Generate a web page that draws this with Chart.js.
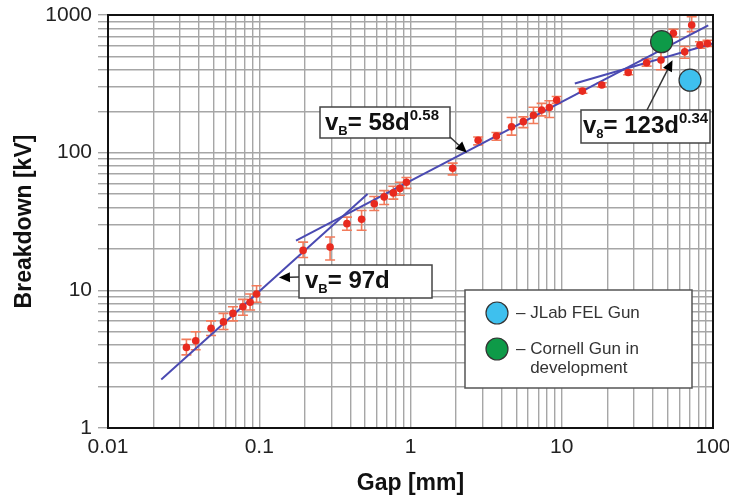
<!DOCTYPE html>
<html>
<head>
<meta charset="utf-8">
<script src="https://cdn.jsdelivr.net/npm/chart.js@4.4.0/dist/chart.umd.min.js"></script>
<style>
  html, body { margin: 0; padding: 0; background: #fff; }
</style>
</head>
<body>
<canvas id="breakdownChart" width="729" height="497"></canvas>
<script>
// measured breakdown voltage vs gap
const gapMm = [0.033, 0.038, 0.048, 0.058, 0.067, 0.078, 0.087, 0.096,
    0.195, 0.294, 0.38, 0.475, 0.576, 0.67, 0.77, 0.85, 0.94,
    1.9, 2.8, 3.7, 4.66, 5.57, 6.5, 7.36, 8.28, 9.26,
    13.7, 18.4, 27.5, 36.4, 45.3, 54.7, 65, 72.3, 82, 92];
const breakdownKv = [3.85, 4.3, 5.3, 5.9, 6.8, 7.6, 8.2, 9.4,
    19.5, 20.6, 30.5, 32.8, 42.6, 47.7, 51, 55, 61,
    77, 123, 132, 154, 168, 187, 204, 213, 241,
    280, 310, 382, 450, 471, 736, 540, 846, 605, 620];
const errLowKv = [3.4, 3.7, 4.7, 5.2, 6.0, 6.6, 7.2, 8.2,
    17.3, 16.6, 27.3, 27.3, 38, 42, 46, 49, 55,
    69, 114, 123, 134, 152, 163, 185, 180, 228,
    270, 300, 368, 425, 400, 690, 485, 757, 575, 590];
const errHighKv = [4.4, 5.0, 6.0, 6.8, 7.6, 8.6, 9.4, 10.8,
    22.4, 24.4, 34, 38, 48, 53, 57, 61, 66,
    84, 130, 140, 180, 182, 214, 228, 238, 256,
    292, 322, 398, 480, 550, 787, 590, 970, 640, 655];

// fitted power laws (end points)
const fit97Gap = [0.0225, 0.52];
const fit97Kv = [2.25, 50];
const fit58Gap = [0.175, 93];
const fit58Kv = [23, 840];
const fit123Gap = [12.2, 100];
const fit123Kv = [318, 622];

// guns
const jlabGap = [70.5];
const jlabKv = [336];
const cornellGap = [45.7];
const cornellKv = [640];

// axes
const xMajorTicks = [0.01, 0.1, 1, 10, 100];
const xTickLabels = ['0.01', '0.1', '1', '10', '100'];
const yMajorTicks = [1, 10, 100, 1000];
const yTickLabels = ['1', '10', '100', '1000'];

// arrow tips of the formula notes (data coordinates)
const tip58 = [2.36, 100];
const tip97 = [0.135, 12.4];
const tip123 = [54, 470];

const FONT = "'Liberation Sans', Arial, sans-serif";
const GRID = '#a6a6a6';

function decadeGrid(majors) {
    const out = [];
    for (let i = 0; i < majors.length - 1; i++) {
        for (let m = 1; m < 10; m++) out.push(Number((majors[i] * m).toPrecision(6)));
    }
    out.push(majors[majors.length - 1]);
    return out;
}

function labelFor(value, majors, labels) {
    for (let i = 0; i < majors.length; i++) {
        if (Math.abs(value - majors[i]) / majors[i] < 1e-6) return labels[i];
    }
    return '';
}

function pts(xs, ys) {
    return xs.map(function(x, i) { return { x: x, y: ys[i] }; });
}

function drawRich(ctx, x, baseline, parts) {
    let cx = x;
    parts.forEach(function(p) {
        ctx.font = 'bold ' + p.size + 'px ' + FONT;
        ctx.fillText(p.t, cx, baseline + (p.dy || 0));
        cx += ctx.measureText(p.t).width + (p.gap || 0);
    });
}

function drawArrow(ctx, x1, y1, x2, y2) {
    const a = Math.atan2(y2 - y1, x2 - x1);
    const len = 11, hw = 5;
    ctx.strokeStyle = '#333';
    ctx.lineWidth = 1.5;
    ctx.beginPath();
    ctx.moveTo(x1, y1);
    ctx.lineTo(x2 - Math.cos(a) * len, y2 - Math.sin(a) * len);
    ctx.stroke();
    ctx.fillStyle = '#000';
    ctx.beginPath();
    ctx.moveTo(x2, y2);
    ctx.lineTo(x2 - Math.cos(a) * len - Math.sin(a) * hw, y2 - Math.sin(a) * len + Math.cos(a) * hw);
    ctx.lineTo(x2 - Math.cos(a) * len + Math.sin(a) * hw, y2 - Math.sin(a) * len - Math.cos(a) * hw);
    ctx.closePath();
    ctx.fill();
}

// error bars under the points
const errorBars = {
    id: 'errorBars',
    beforeDatasetsDraw(chart) {
        const ctx = chart.ctx;
        const xs = chart.scales.x, ys = chart.scales.y;
        const area = chart.chartArea;
        ctx.save();
        ctx.beginPath();
        ctx.rect(area.left, area.top, area.right - area.left, area.bottom - area.top);
        ctx.clip();
        ctx.strokeStyle = '#f27b5b';
        ctx.lineWidth = 1.6;
        gapMm.forEach(function(g, i) {
            const px = xs.getPixelForValue(g);
            const lo = ys.getPixelForValue(errLowKv[i]);
            const hi = ys.getPixelForValue(errHighKv[i]);
            ctx.beginPath();
            ctx.moveTo(px, lo); ctx.lineTo(px, hi);
            ctx.moveTo(px - 5, lo); ctx.lineTo(px + 5, lo);
            ctx.moveTo(px - 5, hi); ctx.lineTo(px + 5, hi);
            ctx.stroke();
        });
        ctx.restore();
    }
};

// frame, formula notes and legend box
const notes = {
    id: 'notes',
    afterDatasetsDraw(chart) {
        const ctx = chart.ctx;
        const xs = chart.scales.x, ys = chart.scales.y;
        const area = chart.chartArea;
        ctx.save();

        ctx.strokeStyle = '#111';
        ctx.lineWidth = 2;
        ctx.strokeRect(area.left, area.top, area.right - area.left, area.bottom - area.top);

        const boxes = [
            { r: [320, 107, 130, 31], tx: 325, base: 130, tail: [450, 137], tip: tip58,
              parts: [{ t: 'v', size: 24 }, { t: 'B', size: 13, dy: 5 }, { t: '= 58d', size: 24 }, { t: '0.58', size: 15, dy: -10 }] },
            { r: [299, 265, 133, 33], tx: 305, base: 288, tail: [299, 277], tip: tip97,
              parts: [{ t: 'v', size: 24 }, { t: 'B', size: 13, dy: 5 }, { t: '= 97d', size: 24 }] },
            { r: [581, 110, 129, 33], tx: 583, base: 133, tail: [647, 110], tip: tip123,
              parts: [{ t: 'v', size: 24 }, { t: '8', size: 13, dy: 5 }, { t: '= 123d', size: 24 }, { t: '0.34', size: 15, dy: -10 }] }
        ];
        boxes.forEach(function(b) {
            ctx.fillStyle = '#fff';
            ctx.fillRect(b.r[0], b.r[1], b.r[2], b.r[3]);
            ctx.strokeStyle = '#444';
            ctx.lineWidth = 1.5;
            ctx.strokeRect(b.r[0], b.r[1], b.r[2], b.r[3]);
            ctx.fillStyle = '#111';
            ctx.textBaseline = 'alphabetic';
            ctx.textAlign = 'left';
            drawRich(ctx, b.tx, b.base, b.parts);
            drawArrow(ctx, b.tail[0], b.tail[1], xs.getPixelForValue(b.tip[0]), ys.getPixelForValue(b.tip[1]));
        });

        // legend
        ctx.fillStyle = '#fff';
        ctx.fillRect(465, 290, 227, 98);
        ctx.strokeStyle = '#555';
        ctx.lineWidth = 1.5;
        ctx.strokeRect(465, 290, 227, 98);
        const items = [
            { c: '#3ec0ee', y: 313, lines: ['\u2013 JLab FEL Gun'] },
            { c: '#0e9a48', y: 349, lines: ['\u2013 Cornell Gun in', '   development'] }
        ];
        items.forEach(function(it) {
            ctx.beginPath();
            ctx.arc(497, it.y, 11, 0, Math.PI * 2);
            ctx.fillStyle = it.c;
            ctx.fill();
            ctx.strokeStyle = '#333';
            ctx.lineWidth = 1.2;
            ctx.stroke();
            ctx.fillStyle = '#333';
            ctx.font = '17px ' + FONT;
            ctx.textBaseline = 'middle';
            it.lines.forEach(function(line, k) {
                ctx.fillText(line, 516, it.y + k * 19);
            });
        });
        ctx.restore();
    }
};

const ctx = document.getElementById('breakdownChart').getContext('2d');
new Chart(ctx, {
    type: 'scatter',
    data: {
        datasets: [
            { label: 'Cornell Gun in development', data: pts(cornellGap, cornellKv), pointRadius: 11,
              backgroundColor: '#0e9a48', borderColor: '#333', borderWidth: 1.2 },
            { label: 'JLab FEL Gun', data: pts(jlabGap, jlabKv), pointRadius: 11,
              backgroundColor: '#3ec0ee', borderColor: '#333', borderWidth: 1.2 },
            { label: 'Measured', data: pts(gapMm, breakdownKv), pointRadius: 3.8,
              backgroundColor: '#e82a1f', borderWidth: 0 },
            { label: 'vB = 97d', type: 'line', data: pts(fit97Gap, fit97Kv), borderColor: '#4a4ab2',
              borderWidth: 2, pointRadius: 0, fill: false },
            { label: 'vB = 58d^0.58', type: 'line', data: pts(fit58Gap, fit58Kv), borderColor: '#4a4ab2',
              borderWidth: 2, pointRadius: 0, fill: false },
            { label: 'vB = 123d^0.34', type: 'line', data: pts(fit123Gap, fit123Kv), borderColor: '#4a4ab2',
              borderWidth: 2, pointRadius: 0, fill: false }
        ]
    },
    options: {
        responsive: false,
        animation: false,
        layout: { padding: { top: 15, right: 16, left: 0, bottom: 0 } },
        plugins: {
            legend: { display: false },
            tooltip: { enabled: false }
        },
        scales: {
            x: {
                type: 'logarithmic',
                position: 'bottom',
                min: 0.01,
                max: 100,
                afterBuildTicks: function(s) { s.ticks = decadeGrid(xMajorTicks).map(function(v) { return { value: v }; }); },
                afterFit: function(s) { s.height = 69; s.paddingLeft = 0; s.paddingRight = 0; },
                grid: { color: GRID, lineWidth: 1.4, drawTicks: false },
                border: { display: false },
                ticks: {
                    autoSkip: false,
                    maxRotation: 0,
                    padding: 7,
                    color: '#222',
                    font: { family: FONT, size: 21 },
                    callback: function(v) { return labelFor(v, xMajorTicks, xTickLabels); }
                },
                title: { display: true, text: 'Gap [mm]', color: '#111',
                    font: { family: FONT, size: 23, weight: 'bold' }, padding: { top: 0, bottom: 0 } }
            },
            y: {
                type: 'logarithmic',
                min: 1,
                max: 1000,
                afterBuildTicks: function(s) { s.ticks = decadeGrid(yMajorTicks).map(function(v) { return { value: v }; }); },
                afterFit: function(s) { s.width = 108; s.paddingTop = 0; s.paddingBottom = 0; },
                grid: { color: GRID, lineWidth: 1.4, drawTicks: true, tickLength: 10 },
                border: { display: false },
                ticks: {
                    autoSkip: false,
                    padding: 6,
                    color: '#222',
                    font: { family: FONT, size: 21 },
                    callback: function(v) { return labelFor(v, yMajorTicks, yTickLabels); }
                },
                title: { display: true, text: 'Breakdown [kV]', color: '#111',
                    font: { family: FONT, size: 23, weight: 'bold' }, padding: { top: 11, bottom: 0 } }
            }
        }
    },
    plugins: [errorBars, notes]
});
</script>
</body>
</html>
